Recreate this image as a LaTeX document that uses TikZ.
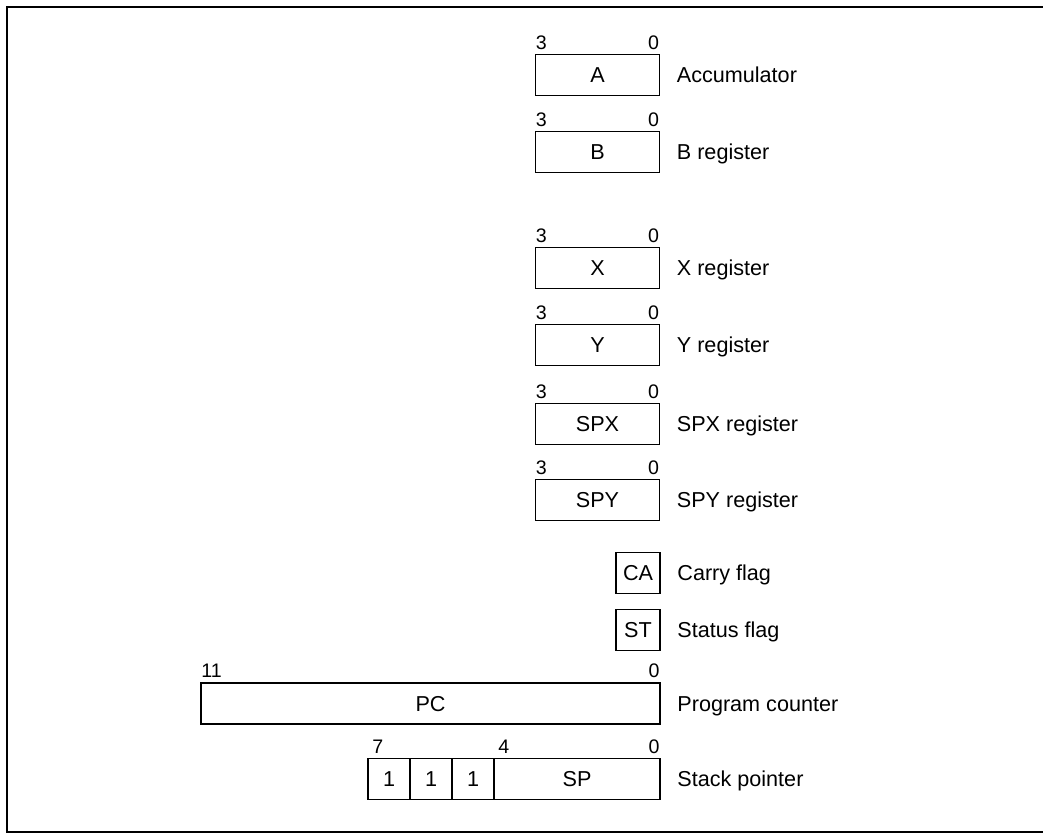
\documentclass[tikz,border=0pt]{standalone}
\usepackage{fontspec}
\setmainfont{Liberation Sans}
\usetikzlibrary{positioning}
\tikzset{
  reg/.style={draw, line width=0.9pt, minimum width=62pt, minimum height=20.5pt, inner sep=0pt, outer sep=0pt},
  flagbox/.style={reg, minimum width=22pt},
  bitno/.style={inner sep=0pt, font=\fontsize{9.8}{11}\selectfont},
  regname/.style={anchor=west, inner sep=0pt},
}

\begin{document}
\begin{tikzpicture}[x=0.5pt,y=-0.5pt,line cap=round,
    font=\fontsize{10.8}{12}\selectfont,
    every node/.append style={text height=7.7pt, text depth=0pt}]
  \useasboundingbox (0,0) rectangle (1043,835);
  % frame
  \draw[line width=1pt] (1043,7) -- (7,7) -- (7,832) -- (1043,832);
  % 4-bit registers
  \foreach \r/\yy/\lbl in {A/75/Accumulator, B/152/B register, X/268/X register,
      Y/345/Y register, SPX/424/SPX register, SPY/500/SPY register}{
    \node[reg] (reg\r) at (597.5,\yy) {\r};
    \node[bitno,anchor=south west] (hi\r) at ([yshift=2.5pt]reg\r.north west) {3};
    \node[bitno,anchor=south east] (lo\r) at ([yshift=2.5pt]reg\r.north east) {0};
    \node[regname,right=8.5pt of reg\r] (name\r) {\lbl};
  }
  % flags
  \foreach \f/\yy/\lbl in {CA/573/Carry flag, ST/630/Status flag}{
    \node[flagbox] (flag\f) at (638,\yy) {\f};
    \node[regname,right=8.5pt of flag\f] (name\f) {\lbl};
  }
  % program counter
  \node[reg,minimum width=229.5pt] (regPC) at (430.5,703.5) {PC};
  \node[bitno,anchor=south west] (hiPC) at ([yshift=2.5pt]regPC.north west) {11};
  \node[bitno,anchor=south east] (loPC) at ([yshift=2.5pt]regPC.north east) {0};
  \node[regname,right=8.5pt of regPC] (namePC) {Program counter};
  % stack pointer
  \node[reg,minimum width=21pt] (one1) at (389,779) {1};
  \node[reg,minimum width=21pt,right=0pt of one1] (one2) {1};
  \node[reg,minimum width=21pt,right=0pt of one2] (one3) {1};
  \node[reg,minimum width=83pt,right=0pt of one3] (regSP) {SP};
  \node[bitno,anchor=south west] (hiSP) at ([xshift=2pt,yshift=2.5pt]one1.north west) {7};
  \node[bitno,anchor=south west] (midSP) at ([xshift=2pt,yshift=2.5pt]regSP.north west) {4};
  \node[bitno,anchor=south east] (loSP) at ([yshift=2.5pt]regSP.north east) {0};
  \node[regname,right=8.5pt of regSP] (nameSP) {Stack pointer};
\end{tikzpicture}
\end{document}
